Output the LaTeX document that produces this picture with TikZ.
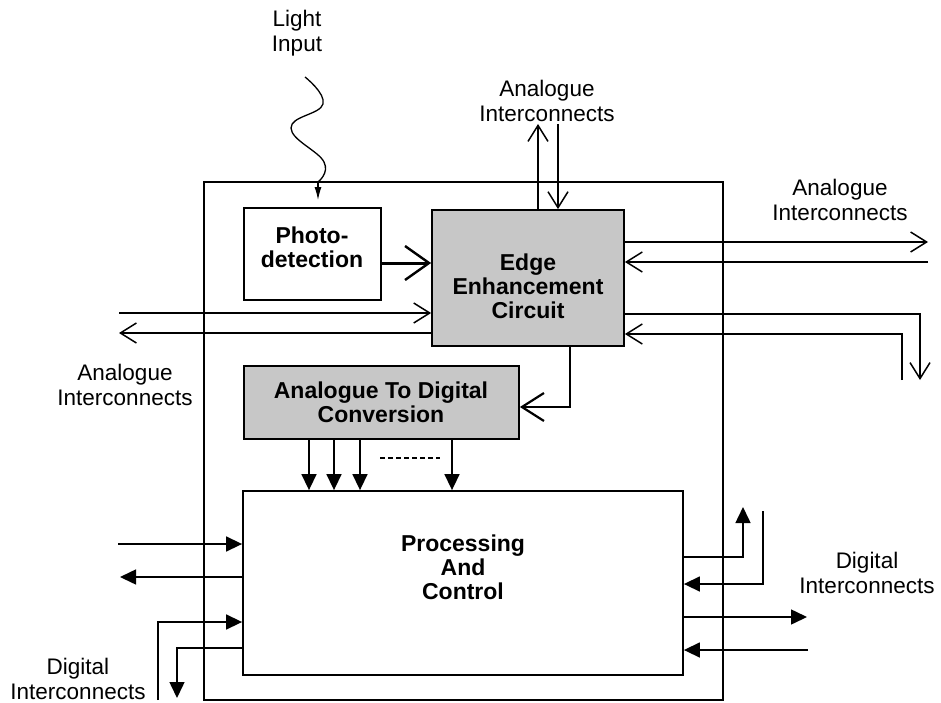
\documentclass[tikz,border=0pt]{standalone}
\usepackage{fontspec}
\setmainfont{Liberation Sans}
\usetikzlibrary{arrows.meta,calc}
\begin{document}
\begin{tikzpicture}[x=1pt,y=-1pt,
  box/.style={draw,line width=1.8pt,inner sep=0pt,rectangle},
  shaded/.style={box,fill=black!22},
  lbl/.style={font=\fontsize{22.5}{25}\selectfont,align=center,inner sep=0pt},
  blbl/.style={font=\fontsize{23}{24}\selectfont\bfseries,align=center,inner sep=0pt},
  wire/.style={line width=1.5pt},
  openar/.style={wire,-{Straight Barb[length=16pt,width=20pt,line width=1.5pt]}},
  bigopen/.style={line width=3pt,-{Straight Barb[length=24pt,width=34pt,line width=2.4pt]}},
  fillar/.style={wire,-{Triangle[length=16pt,width=15pt]}}
]
\useasboundingbox (0,0) rectangle (941,703);
% boxes
\node[box,minimum width=519pt,minimum height=518pt] (chip) at (463.5,441) {};
\node[box,minimum width=137pt,minimum height=92pt] (photo) at (312.5,254) {};
\node[shaded,minimum width=192pt,minimum height=136pt] (edge) at (528,278) {};
\node[shaded,minimum width=275pt,minimum height=73pt] (adc) at (381.5,402.5) {};
\node[box,minimum width=440pt,minimum height=184pt] (proc) at (463,583) {};
% box texts
\node[blbl] (tphoto) at (312,247) {Photo-\\detection};
\node[blbl] (tedge) at (528,286) {Edge\\Enhancement\\Circuit};
\node[blbl] (tadc) at (381,402) {Analogue To Digital\\Conversion};
\node[blbl] (tproc) at (463,567) {Processing\\And\\Control};
% outside labels
\node[lbl] (tlight) at (297,33) {Light\\Input};
\node[lbl] (tana1) at (547,101) {Analogue\\Interconnects};
\node[lbl] (tana2) at (840,200) {Analogue\\Interconnects};
\node[lbl] (tana3) at (125,385) {Analogue\\Interconnects};
\node[lbl] (tdig1) at (78,679) {Digital\\Interconnects};
\node[lbl] (tdig2) at (867,573) {Digital\\Interconnects};
% light input
\coordinate (w0) at (305,77);
\coordinate (w1) at (318,182);
\draw[line width=1.3pt] plot[smooth,tension=0.75] coordinates {(w0) (323,104) (291,128) (324,162) (w1)};
\draw[line width=1.3pt,-{Latex[length=13pt,width=7pt]},shorten >=7pt] (w1) -- (photo.north -| w1);
% top analogue
\coordinate (ta1) at (538,124);
\coordinate (ta2) at (558,124);
\draw[openar] (edge.north -| ta1) -- (ta1);
\draw[openar] (ta2) -- (edge.north -| ta2);
% right analogue
\coordinate (ra1) at (928,242);
\coordinate (ra2) at (928,262);
\coordinate (ra3) at (920,380);
\coordinate (ra4) at (902,380);
\draw[openar] (edge.east |- ra1) -- (ra1);
\draw[openar] (ra2) -- (edge.east |- ra2);
\draw[openar] (edge.east |- 0,314) -| (ra3);
\draw[openar] (ra4) |- (edge.east |- 0,334);
% left analogue
\coordinate (la1) at (119,313);
\coordinate (la2) at (119,333);
\draw[openar] (la1) -- (edge.west |- la1);
\draw[openar] (edge.west |- la2) -- (la2);
% internal flow
\draw[bigopen] (photo.east |- 0,263) -- (edge.west |- 0,263);
\draw[line width=2.4pt,-{Straight Barb[length=22pt,width=28pt,line width=2.2pt]}] (edge.south -| 570,0) |- (adc.east |- 0,407);
\foreach \xx in {309,334,360,452}
  \draw[fillar] (adc.south -| \xx,0) -- (proc.north -| \xx,0);
\draw[line width=1.2pt,dash pattern=on 5pt off 3pt] (380,458) -- (440,458);
% bottom left digital
\coordinate (bl1) at (118,544);
\coordinate (bl2) at (120,577);
\coordinate (bl3) at (158,700);
\coordinate (bl4) at (177,698);
\draw[fillar] (bl1) -- (proc.west |- bl1);
\draw[fillar] (proc.west |- bl2) -- (bl2);
\draw[fillar] (bl3) |- (proc.west |- 0,622);
\draw[fillar] (proc.west |- 0,648) -| (bl4);
% bottom right digital
\coordinate (br1) at (743,507);
\coordinate (br2) at (763,511);
\coordinate (br3) at (807,617);
\coordinate (br4) at (808,650);
\draw[fillar] (proc.east |- 0,557) -| (br1);
\draw[fillar] (br2) |- (proc.east |- 0,584);
\draw[fillar] (proc.east |- br3) -- (br3);
\draw[fillar] (br4) -- (proc.east |- br4);
\end{tikzpicture}
\end{document}
